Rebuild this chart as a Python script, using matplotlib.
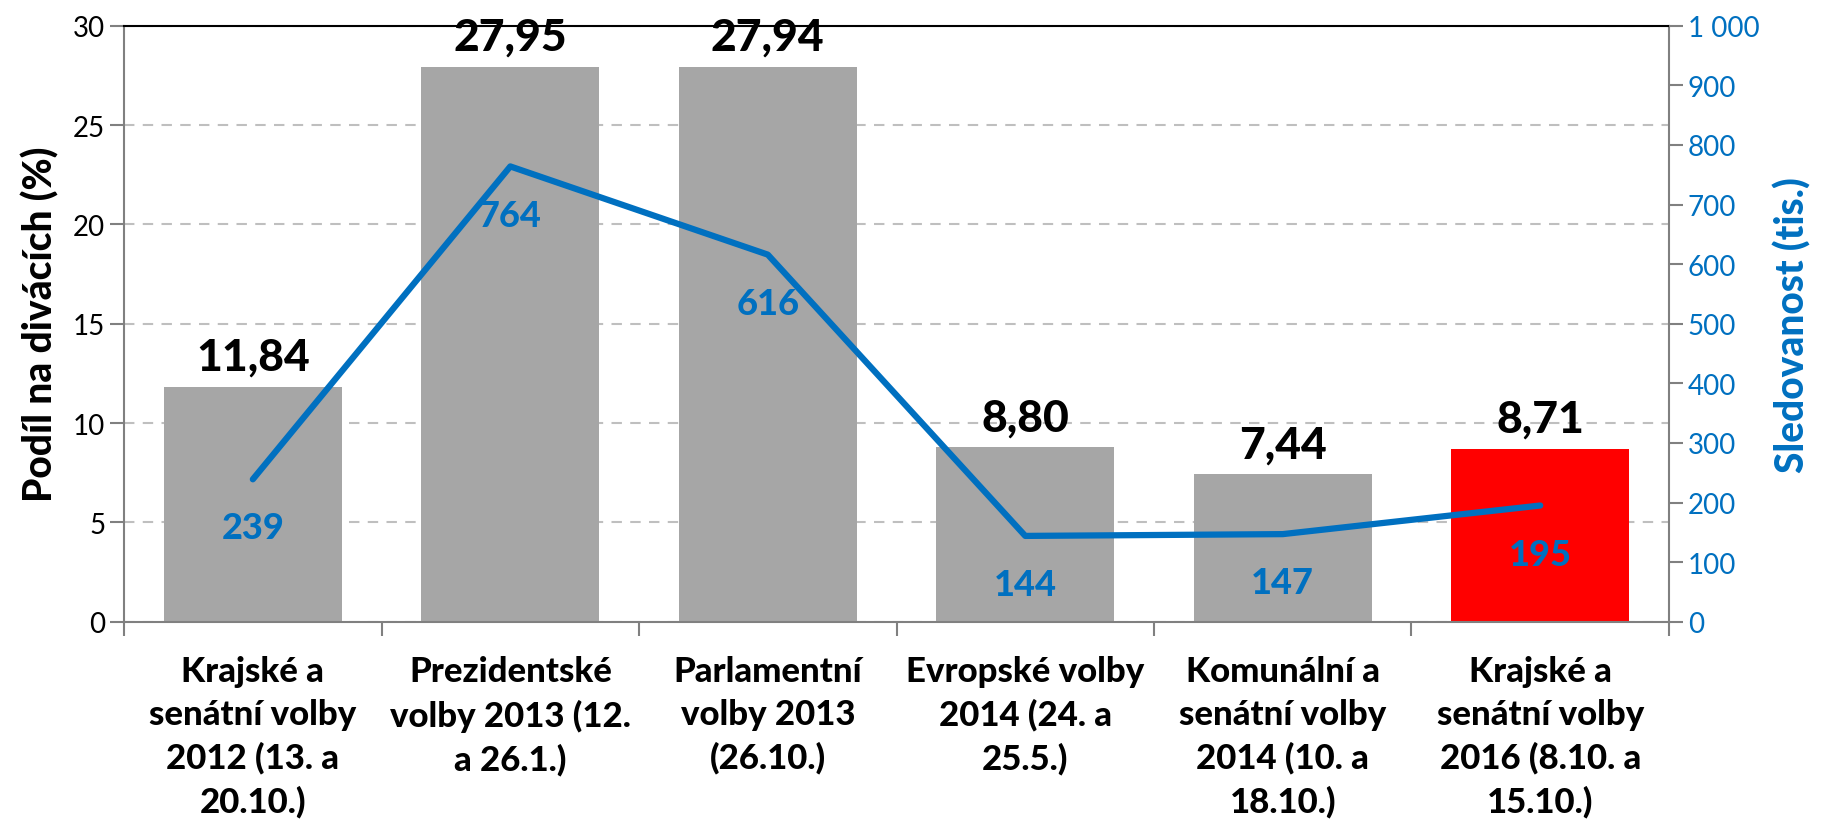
import numpy as np
import matplotlib
matplotlib.use('Agg')
from matplotlib import pyplot as plt
from matplotlib.ticker import FuncFormatter

# data
kategorie = ['Krajské a\nsenátní volby\n2012 (13. a\n20.10.)',
             'Prezidentské\nvolby 2013 (12.\na 26.1.)',
             'Parlamentní\nvolby 2013\n(26.10.)',
             'Evropské volby\n2014 (24. a\n25.5.)',
             'Komunální a\nsenátní volby\n2014 (10. a\n18.10.)',
             'Krajské a\nsenátní volby\n2016 (8.10. a\n15.10.)']
podil = [11.84, 27.95, 27.94, 8.80, 7.44, 8.71]
sledovanost = [239, 764, 616, 144, 147, 195]
barvy = ['#A6A6A6'] * 5 + ['#FF0000']

modra = '#0070C0'
seda = '#808080'
tucne = 'black'
plt.rcParams['font.family'] = ['Lato', 'DejaVu Sans']

fig = plt.figure(figsize=(18.25, 8.37), dpi=100)
ax = fig.add_subplot(111)
fig.subplots_adjust(left=0.068, right=0.9145, top=0.968, bottom=0.256)

x = np.arange(len(podil))
bars = ax.bar(x, podil, width=0.69, color=barvy, zorder=2)
ax.set_xlim(-0.5, len(podil) - 0.5)
ax.set_ylim(0, 30)
ax.set_yticks(np.arange(0, 31, 5))
ax.yaxis.grid(True, ls=(0, (5, 4)), color='#BFBFBF', lw=1.5, zorder=0)
ax.set_axisbelow(True)

for xi, v in zip(x, podil):
    ax.annotate(('%.2f' % v).replace('.', ','), (xi, v), xytext=(0, 7),
                textcoords='offset points', ha='center', va='bottom',
                fontsize=32, fontweight=tucne, color='black')

ax.set_xticks(x)
ax.set_xticklabels(kategorie, fontsize=25, fontweight=tucne, linespacing=1.42)
ax.set_xticks(np.arange(-0.5, len(podil)), minor=True)
ax.tick_params(axis='x', which='major', length=0, pad=24)
ax.tick_params(axis='x', which='minor', length=10, width=1.5, color=seda, direction='out')
ax.tick_params(axis='y', labelsize=20, length=10, width=1.5, color=seda)
ax.set_ylabel('Podíl na divácích (%)', fontsize=28, fontweight=tucne, labelpad=10)

for s in ['left', 'bottom', 'right']:
    ax.spines[s].set_color(seda)
    ax.spines[s].set_linewidth(1.5)
ax.spines['top'].set_color('black')
ax.spines['top'].set_linewidth(1.5)

ax2 = ax.twinx()
ax2.plot(x, sledovanost, color=modra, lw=4.5, solid_capstyle='round', zorder=3)
ax2.set_ylim(0, 1000)
ax2.set_yticks(np.arange(0, 1001, 100))
ax2.yaxis.set_major_formatter(FuncFormatter(lambda v, p: ('{:,.0f}'.format(v)).replace(',', ' ')))
ax2.tick_params(axis='y', labelsize=20, length=10, width=1.5, color=seda, labelcolor=modra)
ax2.set_ylabel('Sledovanost (tis.)', fontsize=28, fontweight=tucne, color=modra, labelpad=10)
for s in ax2.spines.values():
    s.set_visible(False)

for xi, v in zip(x, sledovanost):
    ax2.annotate(str(v), (xi, v), xytext=(0, -35), textcoords='offset points',
                 ha='center', va='center', fontsize=26, fontweight=tucne, color=modra)

fig.savefig('out.png', dpi=100)
